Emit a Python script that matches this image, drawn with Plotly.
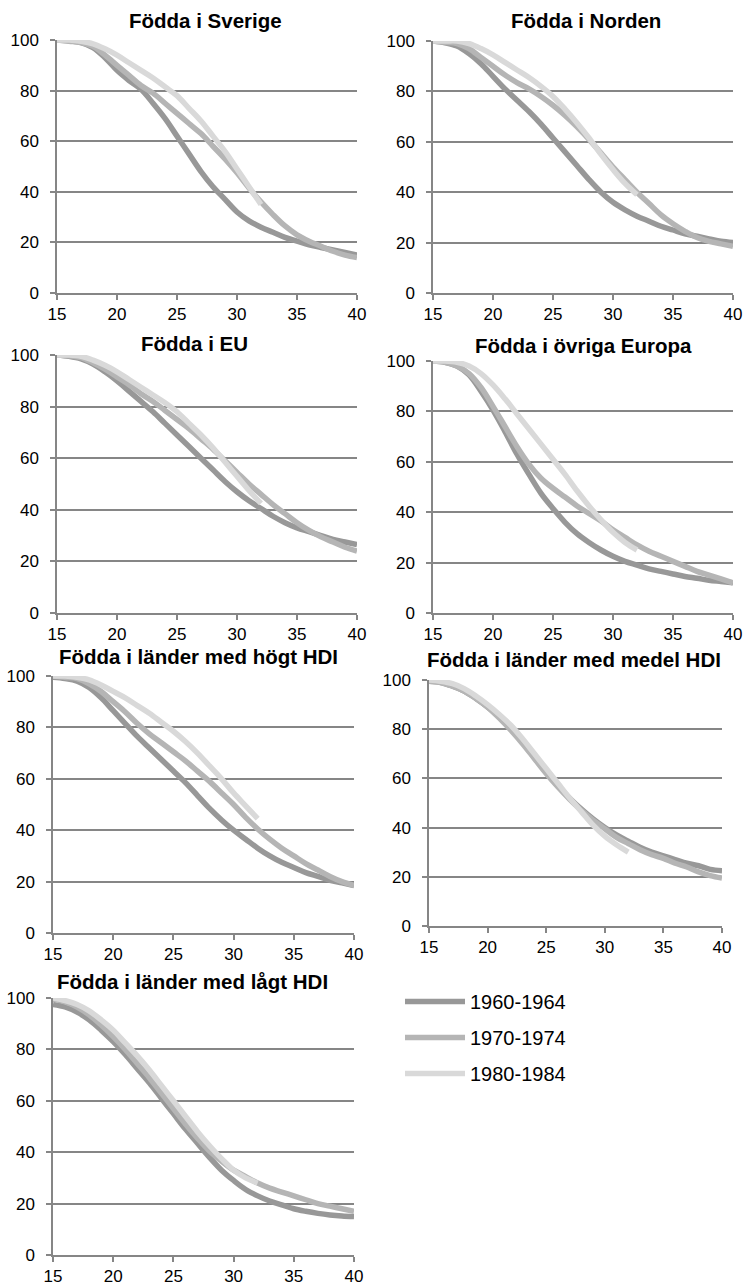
import plotly.graph_objects as go

W, H = 744, 1286

ages = list(range(15, 41))
ages_1980 = list(range(15, 33))

series_names = ["1960-1964", "1970-1974", "1980-1984"]
series_colors = ["#989898", "#b5b5b5", "#d9d9d9"]

panel_titles = [
    "Födda i Sverige",
    "Födda i Norden",
    "Födda i EU",
    "Födda i övriga Europa",
    "Födda i länder med högt HDI",
    "Födda i länder med medel HDI",
    "Födda i länder med lågt HDI",
]

# ---- values (share in %, ages 15-40 / 15-32) ----
sverige_1960 = [100, 99.7, 99, 97, 93, 88, 84, 80.5, 75, 69, 62, 55, 48, 42, 37, 32, 28.5, 26, 24, 22, 20.5, 19, 18, 17, 16, 15]
sverige_1970 = [100, 99.5, 99, 97.5, 94, 90, 86, 82, 79, 75, 71, 67, 63, 58, 53, 47.5, 41.5, 36, 31, 26.5, 23, 20.5, 18.5, 16.5, 15, 14]
sverige_1980 = [100, 100, 99.5, 98.5, 96.5, 94, 91, 88, 85, 81.5, 78, 73, 68, 62, 56, 49, 42, 35]

norden_1960 = [100, 99.3, 98, 95, 91, 86, 81, 76.5, 72, 67, 61.5, 56, 50.5, 45, 40, 36, 33, 30.5, 28.5, 26.5, 25, 23.5, 22.5, 21.5, 20.5, 20]
norden_1970 = [100, 99.5, 99, 97, 93.5, 90, 86.5, 83.5, 81, 78, 74.5, 70.5, 66, 61, 55.5, 50, 45, 40, 35.5, 31, 27.5, 24.5, 22, 20.5, 19.5, 18.5]
norden_1980 = [100, 100, 100, 99, 97, 94.5, 91.5, 88.5, 85.5, 82, 78, 73, 67.5, 61.5, 55, 49, 43.5, 39]

eu_1960 = [100, 99.5, 98.5, 96.5, 93.5, 90, 86, 82, 78, 73.5, 69, 64.5, 60, 55.5, 51, 47, 43.5, 40.5, 37.5, 35, 33, 31.5, 30, 28.5, 27.5, 26.5]
eu_1970 = [100, 99.7, 99, 97, 94.5, 91.5, 88.5, 85, 82, 78.5, 75, 71.5, 67.5, 63.5, 59, 54.5, 50, 46, 42, 38.5, 35, 32, 29.5, 27.5, 25.5, 24]
eu_1980 = [100, 100, 99.5, 98, 96, 93.5, 90.5, 87.5, 84.5, 81.5, 78, 73.5, 69, 64, 58.5, 53, 47.5, 42.5]

ovr_1960 = [100, 99.5, 98, 94.5, 88, 80.5, 72, 63, 55, 47.5, 41.5, 36, 31.5, 28, 25, 22.5, 20.5, 19, 17.5, 16.5, 15.5, 14.5, 13.8, 13, 12.5, 12]
ovr_1970 = [100, 99.5, 98, 95, 89.5, 82, 74, 66, 59, 53.5, 49.5, 46, 42.5, 39.5, 36.5, 33, 30, 27, 24.5, 22.5, 20.5, 18.5, 16.5, 15, 13.5, 12]
ovr_1980 = [100, 100, 99.5, 98, 95, 90.5, 85, 79, 73, 67, 61, 55, 48.5, 42.5, 37, 32, 28, 25]

hog_1960 = [99.5, 99, 98, 95.5, 91.5, 86.5, 81.5, 76.5, 72, 67.5, 63, 58.5, 53.5, 48.5, 44, 40, 36.5, 33, 30, 27.5, 25.5, 23.5, 22, 20.5, 19.5, 18.5]
hog_1970 = [100, 99.5, 99, 97, 94, 90, 86, 81.5, 77.5, 74, 70.5, 67, 63, 59, 54.5, 50, 45, 40.5, 36.5, 33, 30, 27, 24.5, 22, 20, 18.5]
hog_1980 = [100, 100, 99.5, 98.5, 96.5, 94, 91.5, 88.5, 85.5, 82, 78.5, 74.5, 70, 65, 60, 54.5, 49.5, 44.5]

medel_1960 = [99.5, 99, 97.5, 95.5, 92.5, 89, 85, 80, 74.5, 68.5, 62.5, 57, 52, 47.5, 43.5, 40, 37, 34.5, 32, 30, 28.5, 27, 25.5, 24.5, 23, 22.5]
medel_1970 = [99.5, 99, 97.5, 95.5, 92.5, 89, 84.5, 79.5, 74, 68, 62, 56.5, 51.5, 47, 43, 39.5, 36, 33.5, 31, 29, 27.5, 25.5, 24, 22, 20.5, 19.5]
medel_1980 = [100, 99.5, 98.5, 96.5, 93.5, 90, 86, 81.5, 76, 70, 64, 58, 52, 46.5, 41, 36.5, 33, 30]

lag_1960 = [97.5, 96.5, 94.5, 91.5, 87.5, 83, 78, 72.5, 67, 61, 55, 49, 43.5, 38, 33, 29, 25.5, 23, 21, 19.5, 18, 17, 16.2, 15.6, 15.2, 15]
lag_1970 = [99.5, 98.5, 96.5, 93.5, 89.5, 85, 80, 74.5, 69, 63, 57, 51, 45.5, 40.5, 36.5, 33, 30.5, 28, 26, 24.5, 23, 21.5, 20, 19, 18, 17]
lag_1980 = [100, 99, 97.5, 95, 91.5, 87.5, 82.5, 77.5, 72, 66, 60, 54, 48, 42.5, 37.5, 33, 30, 28]

panel_data = [
    (sverige_1960, sverige_1970, sverige_1980),
    (norden_1960, norden_1970, norden_1980),
    (eu_1960, eu_1970, eu_1980),
    (ovr_1960, ovr_1970, ovr_1980),
    (hog_1960, hog_1970, hog_1980),
    (medel_1960, medel_1970, medel_1980),
    (lag_1960, lag_1970, lag_1980),
]

x_ticks = [15, 20, 25, 30, 35, 40]
y_ticks = [0, 20, 40, 60, 80, 100]

# ---- layout (pixel boxes of each plot area: left, right, top, bottom) ----
boxes = [
    (57, 357, 40, 293),
    (433, 733, 41, 293),
    (57, 357, 355, 613),
    (433, 733, 361, 613),
    (53, 354, 676, 933),
    (429, 722, 680, 926),
    (53, 354, 998, 1255),
]
title_pos = [(206, 20), (586, 20), (194, 343), (583, 345), (198, 656), (574, 659), (192, 981)]

FONT = "Arial, 'Liberation Sans', sans-serif"
AX = "#868686"

fig = go.Figure()
layout_axes = {}
annotations = []

for i, (data, box) in enumerate(zip(panel_data, boxes)):
    n = i + 1
    xa = "x" if n == 1 else f"x{n}"
    ya = "y" if n == 1 else f"y{n}"
    for j, vals in enumerate(data):
        xs = ages_1980 if j == 2 else ages
        fig.add_trace(go.Scatter(
            x=xs, y=vals, mode="lines",
            line=dict(color=series_colors[j], width=5.5, shape="spline", smoothing=1.0),
            name=series_names[j], legendgroup=series_names[j],
            showlegend=(i == 0), xaxis=xa, yaxis=ya, hoverinfo="skip",
        ))
    l, r, t, b = box
    xkey = "xaxis" if n == 1 else f"xaxis{n}"
    ykey = "yaxis" if n == 1 else f"yaxis{n}"
    layout_axes[xkey] = dict(
        domain=[l / W, r / W], anchor=ya, range=[15, 40], tickvals=x_ticks,
        showgrid=False, zeroline=False, showline=True, linecolor=AX, linewidth=1.5,
        ticks="outside", ticklen=5, tickcolor=AX, tickwidth=1.5, ticklabelstandoff=0,
        tickfont=dict(family=FONT, size=17, color="#000"), fixedrange=True,
    )
    layout_axes[ykey] = dict(
        domain=[1 - b / H, 1 - t / H], anchor=xa, range=[0, 100], tickvals=y_ticks,
        showgrid=True, gridcolor=AX, gridwidth=1.5, zeroline=False,
        showline=True, linecolor=AX, linewidth=1.5,
        ticks="outside", ticklen=5, tickcolor=AX, tickwidth=1.5, ticklabelstandoff=8,
        tickfont=dict(family=FONT, size=17, color="#000"), fixedrange=True,
    )
    tx, ty = title_pos[i]
    annotations.append(dict(
        text=f"<b>{panel_titles[i]}</b>", x=tx / W, y=1 - ty / H, xref="paper", yref="paper",
        xanchor="center", yanchor="middle", showarrow=False,
        font=dict(family=FONT, size=20.5, color="#000"),
    ))

fig.update_layout(
    width=W, height=H, margin=dict(l=0, r=0, t=0, b=0, autoexpand=False),
    paper_bgcolor="white", plot_bgcolor="white",
    annotations=annotations,
    showlegend=True,
    legend=dict(
        x=400 / W, y=1 - 982 / H, xanchor="left", yanchor="top",
        font=dict(family=FONT, size=20, color="#000"),
        tracegroupgap=7, itemwidth=60, bgcolor="rgba(0,0,0,0)",
    ),
    **layout_axes,
)

fig.write_html(
    "out.html",
    config={"displayModeBar": False},
    post_script="document.body.style.margin='0px';document.body.style.overflow='hidden';",
)
